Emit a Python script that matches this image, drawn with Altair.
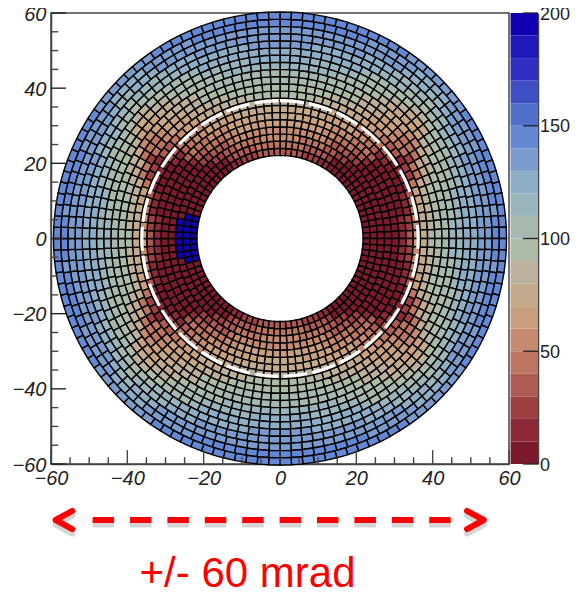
import altair as alt
import pandas as pd

# colour levels (bottom to top of the colour bar), each 10 units wide
colors = ["#7a1a2c", "#8a2a36", "#9c3f40", "#ad5a52", "#bb7560", "#c48b70", "#c8a080", "#c4aa8c", "#bab09c", "#aebaa8",
          "#a6b8b0", "#9ab4bc", "#8eaec8", "#7a9bcc", "#6488d4", "#5070cc", "#4050c4", "#3030c0", "#2018b8", "#1000b0"]
levels = list(range(0, 200, 10))
thresholds = list(range(10, 200, 10))

# ring edges (mrad), sectors per ring
ring_edges = [22.0, 23.9, 25.8, 27.7, 29.6, 31.5, 33.4, 35.3, 37.2, 39.1, 41.0,
              42.9, 44.8, 46.7, 48.6, 50.5, 52.4, 54.3, 56.2, 58.1, 60.0]
ring_sectors = [96, 96, 96, 100, 100, 100, 104, 104, 104, 108, 108, 108, 112, 112, 112, 116, 116, 120, 120, 124]

# values read by eye: one row per 5 degree band measured from the horizontal axis, inner to outer ring
values = [
    [5, 5, 5, 5, 5, 12, 30, 60, 79, 90, 98, 105, 110, 116, 121, 126, 131, 136, 140, 142],
    [5, 5, 5, 5, 5, 10, 22, 55, 76, 88, 96, 103, 109, 115, 120, 125, 130, 135, 139, 142],
    [5, 5, 5, 5, 5, 8, 15, 42, 72, 85, 94, 100, 107, 113, 121, 129, 133, 137, 140, 142],
    [5, 5, 5, 5, 5, 5, 10, 30, 60, 80, 90, 97, 104, 109, 118, 127, 133, 137, 140, 142],
    [5, 5, 5, 5, 5, 5, 8, 15, 40, 70, 83, 92, 99, 105, 114, 123, 133, 137, 140, 142],
    [5, 5, 5, 5, 5, 5, 5, 10, 20, 48, 72, 84, 92, 99, 109, 118, 128, 135, 138, 141],
    [5, 5, 5, 5, 5, 5, 5, 8, 15, 28, 42, 70, 82, 91, 101, 111, 121, 131, 137, 140],
    [5, 5, 5, 5, 5, 5, 10, 30, 37, 41, 46, 50, 60, 76, 90, 101, 112, 123, 133, 138],
    [5, 5, 5, 5, 12, 30, 37, 42, 47, 52, 58, 62, 67, 71, 80, 90, 100, 111, 122, 130],
    [5, 5, 8, 20, 33, 40, 46, 51, 57, 62, 67, 72, 77, 82, 91, 100, 111, 120, 128, 135],
    [5, 8, 25, 34, 40, 47, 53, 59, 64, 69, 75, 81, 86, 91, 101, 110, 119, 128, 134, 138],
    [10, 22, 33, 39, 47, 53, 60, 65, 71, 77, 83, 89, 95, 100, 109, 116, 125, 132, 137, 140],
    [15, 30, 38, 46, 52, 59, 64, 71, 77, 84, 90, 96, 102, 106, 113, 120, 128, 134, 138, 141],
    [25, 35, 44, 50, 57, 63, 69, 76, 83, 89, 96, 102, 108, 115, 120, 126, 131, 136, 140, 142],
    [27, 38, 47, 53, 61, 67, 73, 80, 87, 93, 100, 105, 111, 117, 122, 127, 132, 136, 140, 143],
    [30, 40, 49, 55, 62, 69, 76, 84, 90, 96, 102, 107, 113, 119, 124, 129, 133, 137, 141, 144],
    [32, 41, 50, 56, 63, 70, 77, 85, 91, 97, 103, 108, 114, 120, 125, 130, 134, 138, 141, 144],
    [33, 42, 50, 57, 64, 71, 78, 86, 92, 98, 104, 109, 115, 121, 126, 130, 134, 138, 142, 145],
]
# hot patch on the left side of the inner rings: half-width in degrees for ring 0, 1, 2
hot_halfwidth = [16, 15, 13]
hot_value = 195

major_ticks = [-60, -40, -20, 0, 20, 40, 60]
minor_ticks = [-55, -50, -45, -35, -30, -25, -15, -10, -5, 5, 10, 15, 25, 30, 35, 45, 50, 55]
bar_ticks = [0, 50, 100, 150, 200]
ring_marker = [36.5]

rows = []
for i, n in enumerate(ring_sectors):
    for s in range(n):
        t0, t1 = 360 * s / n, 360 * (s + 1) / n
        m = (90 - (t0 + t1) / 2) % 360
        q = m if m <= 90 else 180 - m if m <= 180 else m - 180 if m <= 270 else 360 - m
        v = values[min(int(q // 5), 17)][i]
        if i < len(hot_halfwidth) and abs(m - 180) < hot_halfwidth[i]:
            v = hot_value
        rows.append(dict(t0=t0, t1=t1, r0=ring_edges[i], r1=ring_edges[i + 1], v=v))
cells = pd.DataFrame(rows)

x_scale = alt.Scale(domain=[-60, 60], nice=False)
y_scale = alt.Scale(domain=[-60, 60], nice=False)
r_scale = alt.Scale(domain=[0, 60], range=[0, 226.5])
t_scale = alt.Scale(domain=[0, 360], range=[0, 6.2832])
c_scale = alt.Scale(type="threshold", domain=thresholds, range=colors)
AX = "#444444"

font = "Liberation Sans"
arcs = alt.Chart(cells).mark_arc(stroke="black", strokeWidth=1.4).encode(
    theta=alt.Theta("t0:Q", scale=t_scale),
    theta2="t1:Q",
    radius=alt.Radius("r0:Q", scale=r_scale),
    radius2="r1:Q",
    color=alt.Color("v:Q", scale=c_scale, legend=None),
)

dash_ring = alt.Chart(pd.DataFrame({"r": ring_marker, "t0": [0], "t1": [360], "r0": [0]})).mark_arc(
    filled=False, stroke="white", strokeWidth=3.2, strokeDash=[24, 5], fillOpacity=0
).encode(
    theta=alt.Theta("t0:Q", scale=t_scale), theta2="t1:Q",
    radius=alt.Radius("r:Q", scale=r_scale), radius2="r0:Q",
)

axis_common = dict(grid=False, tickSize=0, domainColor=AX, domainWidth=1.5, labelFont=font, labelFontStyle="italic",
                   labelFontSize=20, labelColor="#222222", labelOverlap=False, labelFlush=False, labelBound=False,
                   title=None, values=major_ticks, format="d")

frame = alt.Chart(pd.DataFrame({"p": [0]})).mark_point(opacity=0).encode(
    x=alt.X("p:Q", scale=x_scale, axis=alt.Axis(labelPadding=4, **axis_common)),
    y=alt.Y("p:Q", scale=y_scale, axis=alt.Axis(labelPadding=5, labelOffset=1, **axis_common)),
)

def x_ticks(pos, length, color=AX):
    d = pd.DataFrame({"p": pos, "a": [-60] * len(pos), "b": [-60 + length] * len(pos)})
    return alt.Chart(d).mark_rule(color=color, strokeWidth=1.4).encode(
        x=alt.X("p:Q", scale=x_scale, axis=None),
        y=alt.Y("a:Q", scale=y_scale, axis=None), y2="b:Q")

def y_ticks(pos, length, color=AX):
    d = pd.DataFrame({"p": pos, "a": [-60] * len(pos), "b": [-60 + length] * len(pos)})
    return alt.Chart(d).mark_rule(color=color, strokeWidth=1.4).encode(
        y=alt.Y("p:Q", scale=y_scale, axis=None),
        x=alt.X("a:Q", scale=x_scale, axis=None), x2="b:Q")

tick_layers = [x_ticks(major_ticks, 3.7), x_ticks(minor_ticks, 1.8),
               y_ticks(major_ticks, 3.9, "#222222"), y_ticks(minor_ticks, 1.9)]

bar = pd.DataFrame({"lo": levels, "hi": [l + 10 for l in levels], "v": [l + 5 for l in levels]})
bar_scale = alt.Scale(domain=[0, 200], nice=False)
colorbar = alt.Chart(bar).mark_rect().encode(
    x=alt.value(459.5), x2=alt.value(487),
    y=alt.Y("lo:Q", scale=bar_scale, axis=alt.Axis(
        orient="right", offset=29, grid=False, tickSize=0, domainColor=AX, domainWidth=1.5,
        labelFont=font, labelFontSize=18, labelColor="#222222", labelPadding=1.5, labelOverlap=False,
        labelFlush=False, labelBound=False, labelOffset=1, title=None, values=bar_ticks, format="d")),
    y2="hi:Q",
    color=alt.Color("v:Q", scale=c_scale, legend=None),
)
bar_tick_df = pd.DataFrame({"v": bar_ticks})
bar_tick_layer = alt.Chart(bar_tick_df).mark_rule(color="#222222", strokeWidth=1.3).encode(
    y=alt.Y("v:Q", scale=bar_scale, axis=None), x=alt.value(472), x2=alt.value(487))

# red double arrow under the chart, in axis units
arrow_y = -74.9
shadow_y = -76.1
dash_span = pd.DataFrame({"a": [-49.1], "b": [45.0]})
def dashes(y, color, opacity):
    return alt.Chart(dash_span.assign(y=y)).mark_rule(color=color, opacity=opacity, strokeWidth=6, strokeDash=[21.5, 15.9]).encode(
        x=alt.X("a:Q", scale=x_scale, axis=None), x2="b:Q", y=alt.Y("y:Q", scale=y_scale, axis=None))

chev_side = ["l", "l", "l", "r", "r", "r"]
chev_x = [-54.4, -58.8, -54.4, 49.0, 53.4, 49.0]
chev_dy = [2.4, 0, -2.4, 2.4, 0, -2.4]
chev_order = [0, 1, 2, 0, 1, 2]
def chevrons(y, color, opacity):
    d = pd.DataFrame({"s": chev_side, "x": chev_x, "y": [y + k for k in chev_dy], "o": chev_order})
    return alt.Chart(d).mark_line(color=color, opacity=opacity, strokeWidth=6, strokeCap="round", strokeJoin="round").encode(
        x=alt.X("x:Q", scale=x_scale, axis=None), y=alt.Y("y:Q", scale=y_scale, axis=None),
        detail="s:N", order="o:Q")

label = alt.Chart(pd.DataFrame({"x": [-8.5], "y": [-92.6], "t": ["+/- 60 mrad"]})).mark_text(
    color="#ff0000", font=font, fontSize=42, baseline="alphabetic", align="center"
).encode(x=alt.X("x:Q", scale=x_scale, axis=None), y=alt.Y("y:Q", scale=y_scale, axis=None), text="t:N")

chart = alt.layer(
    frame, arcs, dash_ring, *tick_layers, colorbar, bar_tick_layer,
    dashes(shadow_y, "#888888", 0.35), chevrons(shadow_y, "#888888", 0.35),
    dashes(arrow_y, "#ff0000", 1), chevrons(arrow_y, "#ff0000", 1), label,
).resolve_scale(x="independent", y="independent").properties(
    width=458, height=451,
    padding={"left": 43, "top": 5, "right": 61, "bottom": 127},
    autosize=alt.AutoSizeParams(type="none"),
    background="white",
).configure_view(stroke=AX, strokeWidth=1.5)

chart.save("out.html", embed_options={"renderer": "svg", "actions": False})
